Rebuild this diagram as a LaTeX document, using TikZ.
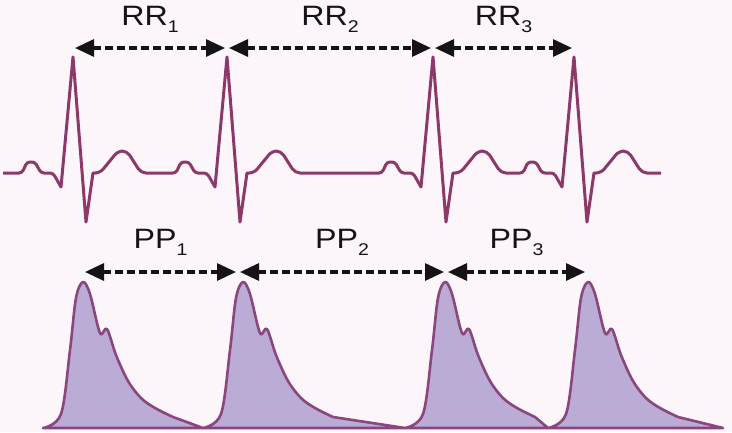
\documentclass[tikz,border=0pt]{standalone}
\usepackage{fontspec}
\setmainfont{Liberation Sans}
\usepackage{graphicx}
\usetikzlibrary{arrows.meta}

\definecolor{bgpink}{RGB}{252,246,250}
\definecolor{wave}{RGB}{140,56,104}
\definecolor{pulse}{RGB}{138,70,125}
\definecolor{lav}{RGB}{186,172,212}
\definecolor{ink}{RGB}{20,20,20}

\newcommand{\ivl}[2]{\scalebox{1.15}[1]{#1\raisebox{-7pt}{\fontsize{17}{17}\selectfont #2}}}

\begin{document}
\begin{tikzpicture}[x=1pt,y=-1pt,
      ecg/.style={wave,line width=3pt,line join=round},
      ppg/.style={pulse,line width=2.6pt,fill=lav,line join=round},
      span/.style={ink,line width=3.2pt,dash pattern=on 8pt off 4pt,
        {Triangle[length=19pt,width=17pt]}-{Triangle[length=19pt,width=17pt]},
        shorten >=2pt,shorten <=2pt},
      lbl/.style={ink,font=\fontsize{28}{30}\selectfont,inner sep=0pt,
        anchor=base,yshift=23pt}]
      \fill[bgpink] (0,0) rectangle (732,432);
      \useasboundingbox (0,0) rectangle (732,432);
      % ecg trace
      \draw[ecg] (3,173) \foreach \r in {73,227,433,574}{
        [rounded corners=3pt] -- (\r-51,173) -- (\r-46,162) -- (\r-38,162) -- (\r-32,173) -- (\r-20,173)
        [sharp corners] -- (\r-12,187) -- (\r,57) -- (\r+13,222) -- (\r+20,173)
        [rounded corners=5pt] -- (\r+27,173) -- (\r+45,151) -- (\r+54,151) -- (\r+68,173)
      } [sharp corners] -- (661,173);
      % pulse wave
      \foreach \p/\n in {83/203,243/405,445/548,588/723}
        \filldraw[ppg] plot[smooth,tension=0.55] coordinates {(\p-40,428) (\p-22,414) (\p-13,350)
          (\p-7,298) (\p,282) (\p+7,294) (\p+17,333) (\p+24,329) (\p+33,355) (\p+45,381)
          (\p+58,398) (\p+72,408) (\p+90,417)} -- (\n,428) -- cycle;
      % intervals
      \foreach \i/\x in {1/73,2/227,3/433,4/574} \coordinate (r\i) at (\x,48);
      \foreach \i/\x in {1/83,2/238,3/446,4/587} \coordinate (p\i) at (\x,272);
      \draw[span] (r1) -- node[lbl] (rr1) {\ivl{RR}{1}} (r2);
      \draw[span] (r2) -- node[lbl] (rr2) {\ivl{RR}{2}} (r3);
      \draw[span] (r3) -- node[lbl] (rr3) {\ivl{RR}{3}} (r4);
      \draw[span] (p1) -- node[lbl,yshift=1pt] (pp1) {\ivl{PP}{1}} (p2);
      \draw[span] (p2) -- node[lbl,yshift=1pt] (pp2) {\ivl{PP}{2}} (p3);
      \draw[span] (p3) -- node[lbl,yshift=1pt] (pp3) {\ivl{PP}{3}} (p4);
    \end{tikzpicture}
\end{document}
